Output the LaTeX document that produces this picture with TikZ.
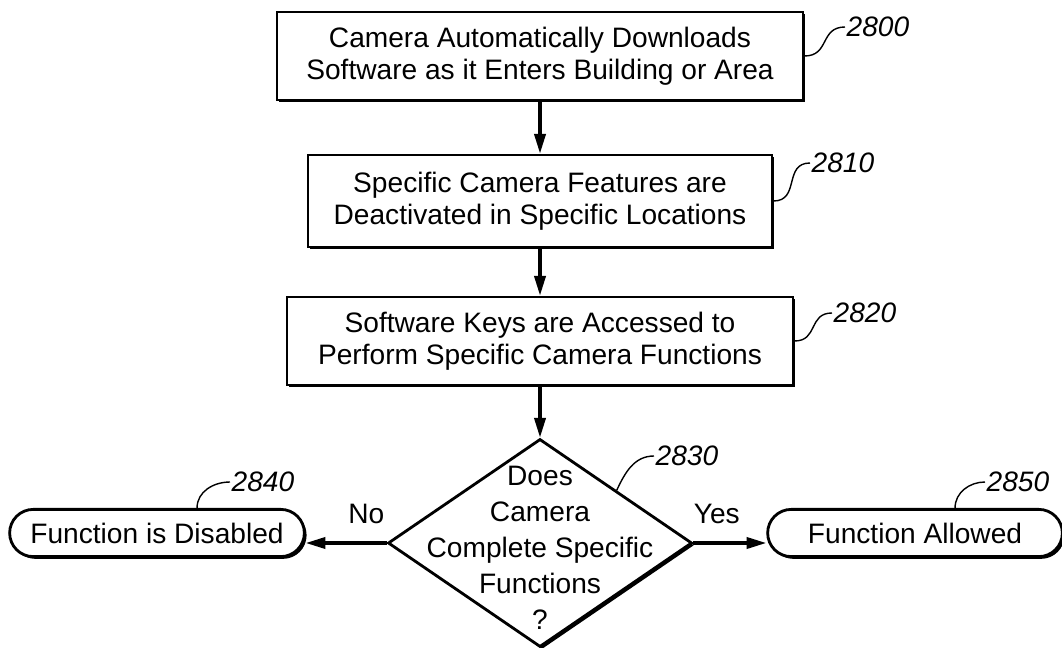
\documentclass[tikz,border=0pt]{standalone}
\usepackage{fontspec}
\setmainfont{Liberation Sans}
\usetikzlibrary{positioning,arrows.meta,shapes.geometric,shapes.misc,shadows}

\tikzset{
  bigfont/.style={font=\fontsize{20}{23}\selectfont},
  boxshadow/.style={drop shadow={shadow xshift=1.6pt,shadow yshift=-1.6pt,fill=black,opacity=1}},
  stepbox/.style={rectangle,draw,line width=2pt,fill=white,align=center,
    bigfont,inner sep=0pt,boxshadow},
  decision/.style={diamond,draw,line width=2pt,fill=white,inner sep=0pt,
    minimum width=7.6cm,minimum height=5.2cm,boxshadow},
  asktext/.style={align=center,font=\fontsize{20}{25.6}\selectfont,inner sep=0pt},
  terminal/.style={rounded rectangle,draw,line width=2pt,fill=white,
    minimum width=7.6cm,minimum height=1.18cm,bigfont,boxshadow},
  flow/.style={line width=2.2pt,-{Triangle[length=14pt,width=8pt]}},
  refnum/.style={font=\fontsize{20}{23}\selectfont\itshape,anchor=west,inner sep=1pt},
  leader/.style={line width=1pt},
}

\begin{document}
\begin{tikzpicture}[x=0.025cm,y=-0.025cm]
\useasboundingbox (0,0) rectangle (1062,648);

% process steps
\node[stepbox,minimum width=13.15cm,minimum height=2.2cm] (b1) at (540,56)
  {Camera Automatically Downloads\\Software as it Enters Building or Area};
\node[stepbox,minimum width=11.6cm,minimum height=2.3cm] (b2) at (540,201)
  {Specific Camera Features are\\Deactivated in Specific Locations};
\node[stepbox,minimum width=12.65cm,minimum height=2.2cm] (b3) at (540,341)
  {Software Keys are Accessed to\\Perform Specific Camera Functions};

% decision
\node[decision] (d) at (540,543) {};
\node[asktext] (dq) at (540,548) {Does\\Camera\\Complete Specific\\Functions\\?};

% outcomes
\node[terminal] (t1) at (157,533) {Function is Disabled};
\node[terminal] (t2) at (915,533) {Function Allowed};

% flow
\draw[flow] (b1.south) -- (b2.north);
\draw[flow] (b2.south) -- (b3.north);
\draw[flow] (b3.south) -- (d.north);
\draw[flow] (d.west) -- (d.west -| t1.east) node[pos=0.25,above=9pt,bigfont] (no) {No};
\draw[flow] (d.east) -- (d.east -| t2.west) node[pos=0.32,above=9pt,bigfont] (yes) {Yes};

% reference numerals
\node[refnum] (n2800) at (845,27) {2800};
\node[refnum] (n2810) at (810,163) {2810};
\node[refnum] (n2820) at (832,313) {2820};
\node[refnum] (n2830) at (654,456) {2830};
\node[refnum] (n2840) at (230,482) {2840};
\node[refnum] (n2850) at (985,482) {2850};

\draw[leader] (b1.east) to[out=0,in=180,looseness=1.3] (n2800.west);
\draw[leader] (b2.east) to[out=0,in=180,looseness=1.3] (n2810.west);
\draw[leader] (b3.east) to[out=0,in=180,looseness=1.3] (n2820.west);
\draw[leader] (d.north east) to[out=65,in=180] (n2830.west);
\draw[leader] (t1.32) to[out=90,in=180] (n2840.west);
\draw[leader] (t2.32) to[out=90,in=180] (n2850.west);
\end{tikzpicture}
\end{document}
